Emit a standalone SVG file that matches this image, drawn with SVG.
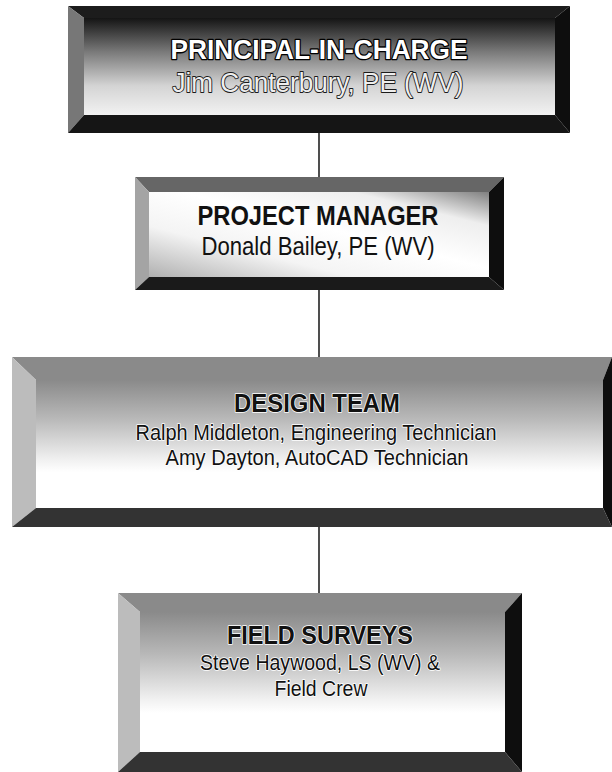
<svg xmlns="http://www.w3.org/2000/svg" width="612" height="772" viewBox="0 0 612 772">
  <style>
    text { font-family: "Liberation Sans", Arial, sans-serif; text-anchor: middle; }
    .h { font-weight: bold; }
    .inv { fill: #ffffff; stroke: #000000; stroke-width: 2.6; paint-order: stroke; stroke-linejoin: round; }
    .inv2 { fill: #eeeeee; stroke: #1a1a1a; stroke-width: 1.8; paint-order: stroke; stroke-linejoin: round; }
    .dk { fill: #111111; }
    .halo { fill: #111111; stroke: #ffffff; stroke-width: 1.6; paint-order: stroke; stroke-linejoin: round; }
    .conn { stroke: #222222; stroke-width: 1.6; fill: none; }
  </style>
  <defs>
    <linearGradient id="g1" x1="0" y1="0" x2="0" y2="1">
      <stop offset="0" stop-color="#141414"/>
      <stop offset="0.35" stop-color="#7a7a7a"/>
      <stop offset="0.7" stop-color="#d4d4d4"/>
      <stop offset="1" stop-color="#f2f2f2"/>
    </linearGradient>
    <linearGradient id="g2" x1="0" y1="1" x2="1" y2="0">
      <stop offset="0" stop-color="#b0b0b0"/>
      <stop offset="0.3" stop-color="#f4f4f4"/>
      <stop offset="0.55" stop-color="#ffffff"/>
      <stop offset="0.8" stop-color="#eeeeee"/>
      <stop offset="1" stop-color="#808080"/>
    </linearGradient>
    <linearGradient id="g3" x1="0" y1="0" x2="0" y2="1">
      <stop offset="0" stop-color="#8a8a8a"/>
      <stop offset="0.3" stop-color="#b8b8b8"/>
      <stop offset="0.62" stop-color="#f0f0f0"/>
      <stop offset="0.72" stop-color="#ffffff"/>
      <stop offset="1" stop-color="#ffffff"/>
    </linearGradient>
  </defs>

  <g id="connectors">
    <line class="conn" x1="319" y1="133" x2="319" y2="177"/>
    <line class="conn" x1="319" y1="290" x2="319" y2="357"/>
    <line class="conn" x1="319" y1="527" x2="319" y2="593"/>
  </g>

  <g id="principal">
    <rect x="84" y="18" width="471" height="97" fill="url(#g1)"/>
    <polygon points="68,6 570,6 555,18 84,18" fill="#1c1c1c"/>
    <polygon points="68,6 84,18 84,115 68,133" fill="#777777"/>
    <polygon points="570,6 570,133 555,115 555,18" fill="#0e0e0e"/>
    <polygon points="68,133 570,133 555,115 84,115" fill="#151515"/>
    <text class="h inv" x="319" y="59" font-size="28" textLength="297" lengthAdjust="spacingAndGlyphs">PRINCIPAL-IN-CHARGE</text>
    <text class="inv2" x="318" y="92" font-size="27" textLength="291" lengthAdjust="spacingAndGlyphs">Jim Canterbury, PE (WV)</text>
  </g>

  <g id="project-manager">
    <rect x="149" y="192" width="340" height="85" fill="url(#g2)"/>
    <polygon points="135,177 504,177 489,192 149,192" fill="#666666"/>
    <polygon points="135,177 149,192 149,277 135,290" fill="#a4a4a4"/>
    <polygon points="504,177 504,290 489,277 489,192" fill="#0e0e0e"/>
    <polygon points="135,290 504,290 489,277 149,277" fill="#1a1a1a"/>
    <text class="h dk" x="318" y="225" font-size="27" textLength="241" lengthAdjust="spacingAndGlyphs">PROJECT MANAGER</text>
    <text class="dk" x="318" y="255" font-size="26" textLength="233" lengthAdjust="spacingAndGlyphs">Donald Bailey, PE (WV)</text>
  </g>

  <g id="design-team">
    <rect x="36" y="380" width="567" height="128" fill="url(#g3)"/>
    <polygon points="12,357 612,357 603,380 36,380" fill="#8a8a8a"/>
    <polygon points="12,357 36,380 36,508 12,527" fill="#bcbcbc"/>
    <polygon points="612,357 612,527 603,508 603,380" fill="#0e0e0e"/>
    <polygon points="12,527 612,527 603,508 36,508" fill="#333333"/>
    <text class="h halo" x="317" y="412" font-size="26" textLength="166" lengthAdjust="spacingAndGlyphs">DESIGN TEAM</text>
    <text class="halo" x="316" y="440" font-size="22" textLength="361" lengthAdjust="spacingAndGlyphs">Ralph Middleton, Engineering Technician</text>
    <text class="halo" x="317" y="465" font-size="22" textLength="303" lengthAdjust="spacingAndGlyphs">Amy Dayton, AutoCAD Technician</text>
  </g>

  <g id="field-surveys">
    <rect x="140" y="612" width="365" height="140" fill="url(#g3)"/>
    <polygon points="118,593 522,593 505,612 140,612" fill="#8a8a8a"/>
    <polygon points="118,593 140,612 140,752 118,772" fill="#bcbcbc"/>
    <polygon points="522,593 522,772 505,752 505,612" fill="#0e0e0e"/>
    <polygon points="118,772 522,772 505,752 140,752" fill="#333333"/>
    <text class="h halo" x="320" y="644" font-size="26" textLength="186" lengthAdjust="spacingAndGlyphs">FIELD SURVEYS</text>
    <text class="halo" x="320" y="670" font-size="22" textLength="240" lengthAdjust="spacingAndGlyphs">Steve Haywood, LS (WV) &amp;</text>
    <text class="halo" x="321" y="696" font-size="22" textLength="93" lengthAdjust="spacingAndGlyphs">Field Crew</text>
  </g>
</svg>
